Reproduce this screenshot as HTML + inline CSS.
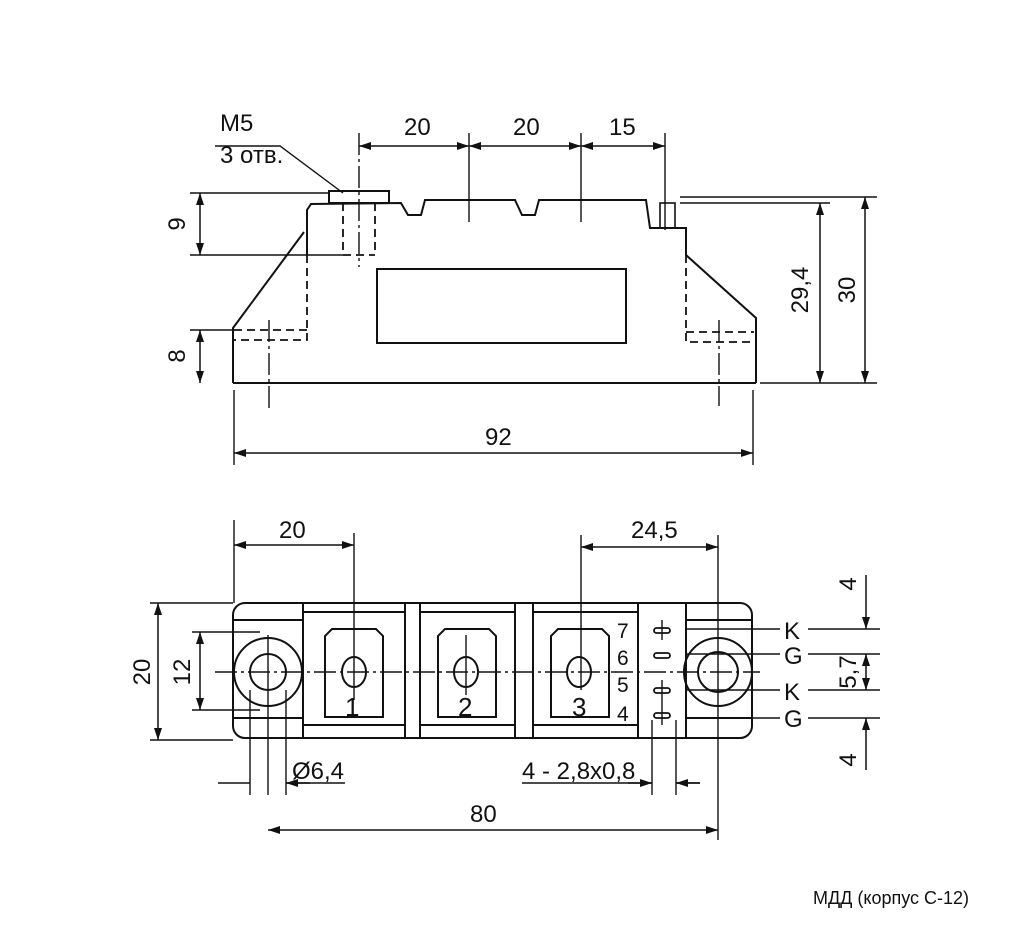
<!DOCTYPE html>
<html><head><meta charset="utf-8"><style>
html,body{margin:0;padding:0;background:#fff}
svg{display:block}
text{font-family:"Liberation Sans Narrow","Liberation Sans",sans-serif;fill:#111}
</style></head><body>
<svg width="1016" height="930" viewBox="0 0 1016 930" xmlns="http://www.w3.org/2000/svg">
<defs>
<marker id="a" viewBox="0 0 12 8" refX="12" refY="4" markerWidth="12" markerHeight="8" orient="auto-start-reverse" markerUnits="userSpaceOnUse"><path d="M0,0 L12,4 L0,8 z" fill="#111"/></marker>
</defs>
<g stroke="#111" fill="none" stroke-width="2">
<!-- TOP VIEW body -->
<path d="M233,383 L233,328 L304,232"/>
<path d="M307,255 L307,210 L311,204 L401,203 L408,215 L421,215 L425,200 L515,200 L522,215 L535,215 L539,200 L646,200 L650,228 L686,228 L686,255 L756,318 L756,383" />
<path d="M233,383 L756,383"/>
<rect x="329" y="191" width="60" height="12"/>
<rect x="660" y="203" width="15" height="25" stroke-width="1.6"/>
<rect x="377" y="269" width="249" height="74"/>
<g stroke-dasharray="8,5" stroke-width="1.8">
<path d="M307,255 L307,340 L234,340"/><path d="M234,330 L307,330"/>
<path d="M343,203 L343,255 M375,203 L375,255 M343,255 L375,255"/>
<path d="M686,255 L686,342 L754,342"/><path d="M686,332 L754,332"/>
</g>
<g stroke-width="1.4">
<path d="M359,133 L359,267 M269,320 L269,410 M719,320 L719,406" stroke-dasharray="22,4,3,4"/>
<path d="M469,133 L469,222 M581,133 L581,222 M665,133 L665,230"/>
<path d="M215,146 L280,146 L343,193"/>
<path d="M190,193 L330,193 M190,255 L343,255 M190,330 L234,330"/>
<path d="M680,197 L877,197 M680,203 L830,203 M760,383 L877,383"/>
<path d="M234,390 L234,465 M753,390 L753,465"/>
</g>
<g stroke-width="1.5" marker-start="url(#a)" marker-end="url(#a)">
<path d="M359,146 L469,146"/><path d="M469,146 L581,146"/><path d="M581,146 L665,146"/>
<path d="M200,193 L200,255"/><path d="M200,330 L200,383"/>
<path d="M820,203 L820,383"/><path d="M865,197 L865,383"/>
<path d="M234,453 L753,453"/>
</g>

<!-- BOTTOM VIEW -->
<rect x="233" y="603" width="519" height="135" rx="12"/>
<path d="M303,603 L303,738 M405,603 L405,738 M420,603 L420,738 M515,603 L515,738 M533,603 L533,738 M638,603 L638,738 M686,603 L686,738"/>
<path d="M303,612 L405,612 M420,612 L515,612 M533,612 L638,612 M303,725 L405,725 M420,725 L515,725 M533,725 L638,725"/>
<path d="M233,620 L303,620 M233,718 L303,718 M686,620 L752,620 M686,718 L752,718"/>
<path d="M325,717 L325,636 L332,629 L376,629 L383,636 L383,717 Z"/>
<path d="M438,717 L438,636 L445,629 L489,629 L496,636 L496,717 Z"/>
<path d="M551,717 L551,636 L558,629 L602,629 L609,636 L609,717 Z"/>
<ellipse cx="354" cy="672" rx="12" ry="15"/><ellipse cx="466" cy="672" rx="12" ry="15"/><ellipse cx="579" cy="672" rx="12" ry="15"/>
<circle cx="268" cy="672" r="34"/><circle cx="268" cy="672" r="18"/>
<circle cx="718" cy="672" r="34"/><circle cx="718" cy="672" r="20"/>
<g stroke-width="1.8">
<rect x="654" y="628" width="16" height="5" rx="2.5"/><rect x="654" y="653" width="16" height="5" rx="2.5"/>
<rect x="654" y="688" width="16" height="5" rx="2.5"/><rect x="654" y="713" width="16" height="5" rx="2.5"/>
</g>
<g stroke-width="1.4">
<path d="M215,672 L760,672" stroke-dasharray="22,4,3,4"/>
<path d="M662,620 L662,640 M662,680 L662,725 M466,635 L466,695"/>
<path d="M234,520 L234,603 M354,533 L354,700 M581,535 L581,690 M718,535 L718,840 M268,635 L268,795"/>
<path d="M150,603 L233,603 M150,740 L233,740 M192,632 L260,632 M192,710 L260,710"/>
<path d="M686,629 L780,629 M686,654 L780,654 M686,690 L780,690 M686,718 L780,718"/>
<path d="M808,629 L880,629 M808,654 L880,654 M808,690 L880,690 M808,718 L880,718"/>
<path d="M250,690 L250,795 M286,690 L286,795 M652,720 L652,795 M676,720 L676,795"/>
<path d="M218,783 L250,783 M286,783 L345,783 M522,783 L652,783 M676,783 L700,783"/>
</g>
<g stroke-width="1.5" marker-start="url(#a)" marker-end="url(#a)">
<path d="M234,545 L354,545"/><path d="M581,547 L718,547"/>
<path d="M158,603 L158,740"/><path d="M200,632 L200,710"/>
<path d="M268,830 L718,830"/>
<path d="M866,654 L866,690"/>
</g>
<g stroke-width="1.5" marker-end="url(#a)">
<path d="M866,575 L866,629"/><path d="M866,770 L866,718"/>
<path d="M310,783 L286,783"/><path d="M628,783 L652,783"/><path d="M700,783 L676,783"/>
</g>
</g>

<!-- TEXT -->
<g font-size="24">
<text x="220" y="131">M5</text>
<text x="220" y="163">3 отв.</text>
<text x="404" y="135">20</text>
<text x="513" y="135">20</text>
<text x="609" y="135">15</text>
<text x="485" y="445">92</text>
<text transform="translate(185,224) rotate(-90)" text-anchor="middle">9</text>
<text transform="translate(185,356) rotate(-90)" text-anchor="middle">8</text>
<text transform="translate(808,290) rotate(-90)" text-anchor="middle">29,4</text>
<text transform="translate(855,290) rotate(-90)" text-anchor="middle">30</text>
<text x="279" y="538">20</text>
<text x="631" y="538">24,5</text>
<text transform="translate(150,672) rotate(-90)" text-anchor="middle">20</text>
<text transform="translate(190,672) rotate(-90)" text-anchor="middle">12</text>
<text x="345" y="716" font-size="26">1</text>
<text x="458" y="716" font-size="26">2</text>
<text x="572" y="716" font-size="26">3</text>
<text x="617" y="638" font-size="21">7</text>
<text x="617" y="665" font-size="21">6</text>
<text x="617" y="692" font-size="21">5</text>
<text x="617" y="721" font-size="21">4</text>
<text x="784" y="639">K</text>
<text x="784" y="664">G</text>
<text x="784" y="700">K</text>
<text x="784" y="727">G</text>
<text transform="translate(856,584) rotate(-90)" text-anchor="middle">4</text>
<text transform="translate(856,672) rotate(-90)" text-anchor="middle">5,7</text>
<text transform="translate(856,760) rotate(-90)" text-anchor="middle">4</text>
<text x="292" y="779">Ø6,4</text>
<text x="522" y="779">4 - 2,8x0,8</text>
<text x="470" y="822">80</text>
</g>
<text x="813" y="904" font-size="18">МДД (корпус С-12)</text>
</svg>
</body></html>
